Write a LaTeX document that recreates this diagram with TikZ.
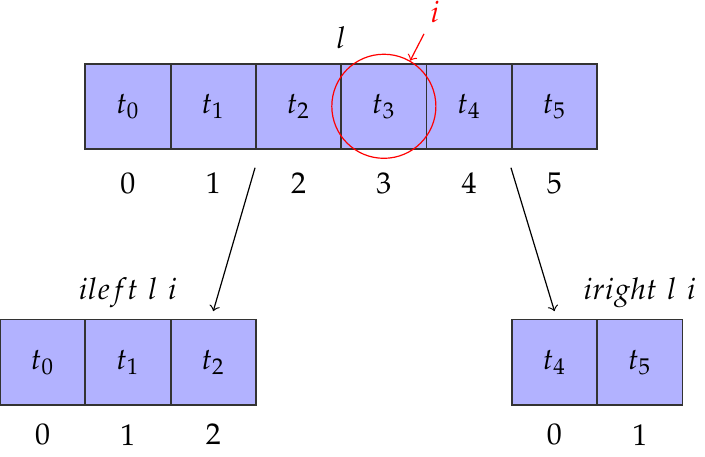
\documentclass[tikz,border=0pt]{standalone}
\usepackage{mathpazo}
\usetikzlibrary{positioning}
\tikzset{
  cell/.style={draw=black!80, semithick, fill=blue!30, minimum size=1cm, inner sep=0pt}
}
\begin{document}
\begin{tikzpicture}[>=to]
\useasboundingbox (0,0) rectangle (8.265,5.346);
% Danh sách ban đầu
\foreach \k in {0,...,5}
  \node[cell] (a\k) at (1.5+\k,4.1) {$t_{\k}$};
\foreach \k in {0,...,5}
  \node (na\k) at (1.5+\k,3.2) {$\k$};
% Phần bên trái
\foreach \k in {0,1,2}
  \node[cell] (b\k) at (0.5+\k,1.1) {$t_{\k}$};
\foreach \k in {0,1,2}
  \node (nb\k) at (0.5+\k,0.25) {$\k$};
% Phần bên phải
\foreach \k/\t in {0/4,1/5}
  \node[cell] (c\k) at (6.5+\k,1.1) {$t_{\t}$};
\foreach \k in {0,1}
  \node (nc\k) at (6.5+\k,0.25) {$\k$};
% Nhãn
\node (lnode) at (4.0,4.9) {$l$};
\node (lefttxt) at (1.5,1.92) {$ileft\ l\ i$};
\node (righttxt) at (7.5,1.92) {$iright\ l\ i$};
% Phần tử được chọn
\node[draw=red, circle, minimum size=1.22cm] (sel) at (a3) {};
\node[red] (inode) at (5.1,5.2) {$i$};
\draw[->, red] (inode) -- (sel.60);
% Mũi tên tách danh sách
\path
(2.99,3.38) coordinate (ls)
(5.99,3.38) coordinate (rs);
\draw[->] (ls) -- ([yshift=2.5pt]b2.north);
\draw[->] (rs) -- ([yshift=2.5pt]c0.north);
\end{tikzpicture}
\end{document}
